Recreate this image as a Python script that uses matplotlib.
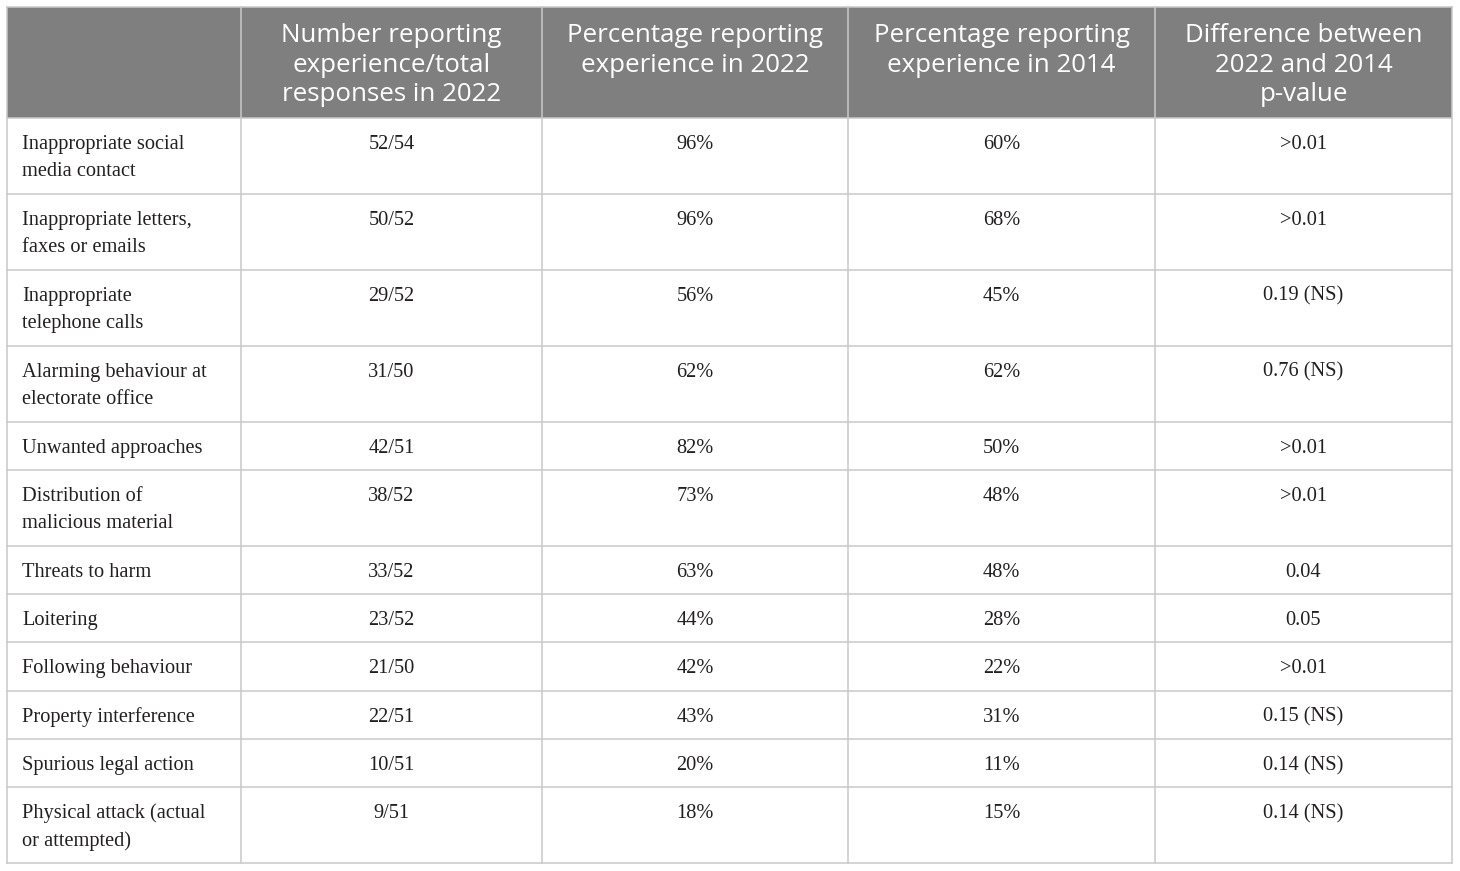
import matplotlib.pyplot as plt
from matplotlib.patches import Rectangle

# Table content
headers = ['',
           'Number reporting\nexperience/total\nresponses in 2022',
           'Percentage reporting\nexperience in 2022',
           'Percentage reporting\nexperience in 2014',
           'Difference between\n2022 and 2014\np-value']
behaviours = ['Inappropriate social\nmedia contact',
              'Inappropriate letters,\nfaxes or emails',
              'Inappropriate\ntelephone calls',
              'Alarming behaviour at\nelectorate office',
              'Unwanted approaches',
              'Distribution of\nmalicious material',
              'Threats to harm',
              'Loitering',
              'Following behaviour',
              'Property interference',
              'Spurious legal action',
              'Physical attack (actual\nor attempted)']
counts_2022 = ['52/54', '50/52', '29/52', '31/50', '42/51', '38/52',
               '33/52', '23/52', '21/50', '22/51', '10/51', '9/51']
pct_2022 = [96, 96, 56, 62, 82, 73, 63, 44, 42, 43, 20, 18]
pct_2014 = [60, 68, 45, 62, 50, 48, 48, 28, 22, 31, 11, 15]
p_values = ['>0.01', '>0.01', '0.19 (NS)', '0.76 (NS)', '>0.01', '>0.01',
            '0.04', '0.05', '>0.01', '0.15 (NS)', '0.14 (NS)', '0.14 (NS)']

W, H = 1460, 871
fig = plt.figure(figsize=(W / 100, H / 100), dpi=100)
ax = fig.add_axes([0, 0, 1, 1])
ax.set_xlim(0, W)
ax.set_ylim(H, 0)
ax.axis('off')

col_edges = [7, 241, 542, 848, 1155, 1452]
top, head_bottom = 7, 118
grid_col = '#c9c9c9'
head_col = '#7f7f7f'
text_col = '#231f20'

# header
ax.add_patch(Rectangle((col_edges[0], top), col_edges[-1] - col_edges[0],
                       head_bottom - top, color=head_col, lw=0))
for j, h in enumerate(headers):
    cx = (col_edges[j] + col_edges[j + 1]) / 2
    for k, line in enumerate(h.split('\n')):
        ax.text(cx, 42 + 29.5 * k, line, ha='center', va='baseline',
                color='white', fontsize=18.6, family='Open Sans')

# body rows
rows = list(zip(behaviours, counts_2022,
                [f'{v}%' for v in pct_2022], [f'{v}%' for v in pct_2014], p_values))
y = head_bottom
row_edges = [y]
for r in rows:
    nlines = r[0].count('\n') + 1
    h = 20.7 + 27.6 * nlines
    for k, line in enumerate(r[0].split('\n')):
        ax.text(22, y + 31 + 27.5 * k, line, ha='left', va='baseline',
                color=text_col, fontsize=14.7, family='Liberation Serif')
    for j in range(1, 5):
        cx = (col_edges[j] + col_edges[j + 1]) / 2
        ax.text(cx, y + 31, r[j], ha='center', va='baseline',
                color=text_col, fontsize=14.7, family='Liberation Serif')
    y += h
    row_edges.append(y)

bottom = row_edges[-1]
for ry in row_edges:
    ax.plot([col_edges[0], col_edges[-1]], [ry, ry], color=grid_col, lw=1.1)
for cx in col_edges:
    ax.plot([cx, cx], [top, bottom], color=grid_col, lw=1.1)
ax.plot([col_edges[0], col_edges[-1]], [top, top], color=grid_col, lw=1.1)

fig.savefig('out.png', dpi=100, facecolor='white')
